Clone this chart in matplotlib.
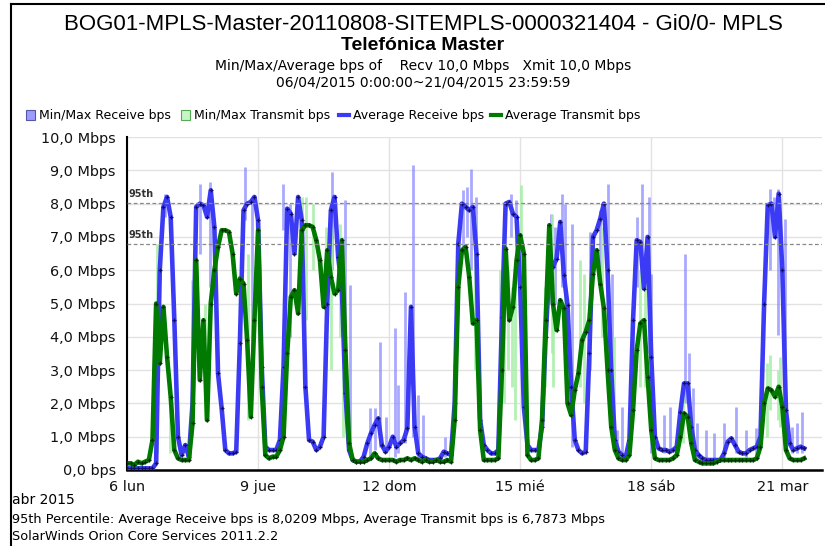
import matplotlib
matplotlib.use("Agg")
import matplotlib.pyplot as plt
from matplotlib.lines import Line2D
from matplotlib.patches import Rectangle
import numpy as np

# ---------------- data (2-hourly averages, Mbps, from 06/04 00:00) ----------------
rx_avg = [
    # day 6
    0.05, 0.05, 0.05, 0.05, 0.05, 0.05, 0.05, 0.05, 0.2, 6.0, 7.9, 8.2,
    # day 7
    7.6, 4.5, 1.0, 0.45, 0.75, 0.4, 2.0, 7.9, 8.0, 7.95, 7.6, 8.4,
    # day 8
    7.3, 2.9, 1.85, 0.6, 0.5, 0.5, 0.55, 3.8, 7.8, 8.0, 8.05, 8.2,
    # day 9
    7.5, 3.1, 0.7, 0.6, 0.6, 0.6, 0.9, 3.1, 7.85, 7.7, 6.5, 8.2,
    # day 10
    7.5, 2.5, 0.9, 0.85, 0.6, 0.7, 1.0, 5.0, 7.8, 8.2, 6.4, 5.5,
    # day 11
    2.3, 0.6, 0.3, 0.25, 0.25, 0.4, 0.8, 1.1, 1.35, 1.55, 0.75, 0.55,
    # day 12
    0.7, 1.0, 0.7, 0.8, 0.9, 1.25, 4.9, 1.3, 0.5, 0.4, 0.35, 0.3,
    # day 13
    0.3, 0.3, 0.35, 0.55, 0.5, 0.45, 2.0, 6.8, 8.0, 7.9, 7.8, 7.9,
    # day 14
    6.5, 1.5, 0.75, 0.6, 0.5, 0.5, 0.6, 4.6, 8.0, 8.05, 7.7, 7.6,
    # day 15
    5.5, 1.9, 0.75, 0.6, 0.6, 0.6, 1.3, 4.0, 6.0, 6.1, 6.35, 7.45,
    # day 16
    5.85, 4.95, 2.5, 0.9, 0.6, 0.5, 0.55, 3.5, 7.0, 7.2, 7.55, 8.0,
    # day 17
    6.0, 3.0, 0.9, 0.55, 0.45, 0.4, 0.9, 4.5, 6.9, 6.85, 5.45, 7.0,
    # day 18
    3.4, 1.0, 0.65, 0.6, 0.6, 0.55, 0.6, 0.7, 1.75, 2.6, 2.6, 1.3,
    # day 19
    0.6, 0.45, 0.35, 0.3, 0.3, 0.3, 0.3, 0.3, 0.5, 0.85, 0.95, 0.75,
    # day 20
    0.55, 0.5, 0.5, 0.6, 0.65, 0.7, 1.0, 5.0, 7.95, 8.0, 7.0, 8.3,
    # day 21
    6.0, 1.8, 0.8, 0.6, 0.65, 0.7, 0.65,
]

tx_avg = [
    # day 6
    0.2, 0.2, 0.15, 0.25, 0.2, 0.25, 0.3, 0.9, 5.0, 3.2, 4.9, 3.4,
    # day 7
    2.2, 0.6, 0.35, 0.3, 0.3, 0.3, 1.4, 6.3, 2.7, 4.5, 1.5, 5.0,
    # day 8
    6.0, 6.7, 7.2, 7.2, 7.15, 6.5, 5.3, 5.75, 5.6, 3.9, 1.6, 4.5,
    # day 9
    7.2, 2.5, 0.45, 0.35, 0.4, 0.4, 0.6, 1.0, 3.5, 5.2, 5.4, 4.7,
    # day 10
    7.2, 7.35, 7.35, 7.3, 6.9, 6.3, 4.9, 6.6, 5.8, 5.3, 5.4, 6.9,
    # day 11
    3.6, 0.8, 0.3, 0.25, 0.25, 0.25, 0.3, 0.35, 0.5, 0.35, 0.3, 0.3,
    # day 12
    0.3, 0.3, 0.25, 0.3, 0.3, 0.35, 0.3, 0.35, 0.3, 0.25, 0.3, 0.25,
    # day 13
    0.25, 0.3, 0.25, 0.25, 0.3, 0.25, 1.5, 5.5, 6.6, 6.7, 5.8, 4.4,
    # day 14
    4.5, 1.2, 0.3, 0.3, 0.3, 0.3, 0.35, 3.0, 6.65, 4.5, 4.9, 6.3,
    # day 15
    7.05, 6.5, 0.45, 0.3, 0.3, 0.35, 1.5, 4.5, 7.35, 5.0, 4.2, 5.1,
    # day 16
    4.85, 2.0, 1.65, 2.4, 2.9, 3.9, 4.15, 4.5, 5.9, 6.6, 5.6, 4.85,
    # day 17
    3.0, 1.3, 0.6, 0.35, 0.3, 0.3, 0.45, 1.8, 3.6, 4.4, 4.5, 2.8,
    # day 18
    1.2, 0.35, 0.3, 0.3, 0.3, 0.3, 0.35, 0.45, 1.0, 1.7, 1.6, 0.8,
    # day 19
    0.3, 0.25, 0.2, 0.2, 0.2, 0.2, 0.25, 0.3, 0.3, 0.3, 0.3, 0.3,
    # day 20
    0.3, 0.3, 0.3, 0.3, 0.3, 0.35, 0.7, 2.0, 2.45, 2.4, 2.2, 2.5,
    # day 21
    1.9, 0.6, 0.35, 0.3, 0.3, 0.3, 0.35,
]

# min/max spikes (hour since 06/04 00:00, min, max) in Mbps
rx_bar_h = [20.9, 40.1, 45.6, 64.6, 68.7, 85.7, 89.6, 112.4, 119.6, 122.4, 133.4, 136.1,
            138.9, 142.5, 147.1, 148.9, 152.6, 157.2, 159.9, 162.7, 174.6, 184.7, 186.7,
            189.2, 191.8, 211.2, 213.8, 233.0, 235.2, 238.8, 240.7, 244.6, 254.5, 260.0,
            264.5, 266.6, 269.3, 272.0, 280.0, 282.9, 286.5, 287.7, 295.1, 298.4, 306.8,
            308.7, 310.9, 313.3, 318.2, 322.6, 328.1, 334.7, 340.2, 345.7, 353.0, 355.6,
            357.6, 361.3, 365.5, 368.2, 371.0]
rx_bar_lo = [7.6, 6.5, 5.5, 7.5, 2.5, 7.2, 4.0, 6.0, 3.6, 0.4, 0.3, 0.6,
             0.7, 0.5, 0.4, 0.5, 0.8, 1.0, 0.3, 0.3, 0.4, 6.5, 7.0,
             6.0, 4.0, 7.0, 6.0, 5.0, 5.0, 5.5, 3.0, 0.7, 3.0, 6.0,
             5.5, 1.0, 0.4, 0.4, 5.5, 6.0, 3.5, 0.5, 0.5, 0.5, 2.0,
             1.5, 0.5, 0.3, 0.3, 0.3, 0.3, 0.5, 0.4, 0.4, 6.0, 7.0,
             4.05, 3.0, 0.5, 0.5, 0.5]
rx_bar_hi = [8.3, 8.6, 8.65, 9.1, 8.0, 8.6, 8.0, 8.95, 8.1, 5.55, 1.85, 1.85,
             3.85, 1.6, 4.25, 2.55, 5.35, 9.15, 2.25, 1.65, 1.0, 8.4, 8.5,
             9.05, 8.2, 8.3, 8.1, 7.7, 7.3, 8.3, 8.0, 7.4, 7.15, 7.8,
             8.6, 5.9, 1.2, 1.9, 7.6, 8.6, 8.2, 5.9, 1.65, 1.9, 6.5,
             3.5, 2.45, 1.4, 1.2, 1.1, 1.4, 1.9, 1.2, 1.25, 8.45, 8.2,
             8.45, 7.55, 1.3, 1.4, 1.75]

tx_bar_h = [16.3, 23.6, 35.7, 42.9, 66.5, 96.2, 98.4, 102.4, 109.4, 112.0, 117.1, 118.7,
            191.3, 205.0, 207.2, 209.5, 211.6, 213.2, 216.5, 229.7, 233.3, 234.1, 240.7,
            249.0, 250.8, 254.5, 260.9, 267.7, 281.9, 284.5, 305.6, 351.7, 353.0, 357.6, 358.7]
tx_bar_lo = [0.5, 0.5, 1.0, 1.5, 1.5, 5.5, 4.5, 6.0, 3.0, 3.0, 4.0, 1.0,
             3.0, 1.5, 2.0, 3.0, 2.5, 1.5, 5.5, 2.5, 3.5, 2.5, 3.0,
             2.5, 2.0, 3.0, 4.0, 1.0, 2.5, 2.5, 0.8, 1.0, 1.8, 1.5, 1.3]
tx_bar_hi = [6.8, 2.5, 5.7, 5.0, 6.5, 8.2, 8.2, 8.0, 7.3, 7.3, 7.4, 5.0,
             7.5, 6.0, 7.0, 6.0, 5.5, 6.0, 8.55, 5.5, 7.7, 6.0, 5.5,
             6.3, 5.9, 6.2, 7.3, 4.0, 6.0, 5.8, 2.3, 3.2, 3.45, 3.0, 3.4]

p95_rx = 8.0209
p95_tx = 6.7873

y_ticks = [0, 1, 2, 3, 4, 5, 6, 7, 8, 9, 10]
y_tick_labels = ["0,0 bps", "1,0 Mbps", "2,0 Mbps", "3,0 Mbps", "4,0 Mbps", "5,0 Mbps",
                 "6,0 Mbps", "7,0 Mbps", "8,0 Mbps", "9,0 Mbps", "10,0 Mbps"]
x_tick_days = [0, 3, 6, 9, 12, 15]
x_tick_labels = ["6 lun", "9 jue", "12 dom", "15 mié", "18 sáb", "21 mar"]

# ---------------- figure ----------------
W, H = 825, 546
fig = plt.figure(figsize=(W / 100, H / 100), dpi=100)
fig.patch.set_facecolor("white")

def fx(px):
    return px / W

def fy(py):
    return 1 - py / H

arial = ["Liberation Sans", "DejaVu Sans"]

ax = fig.add_axes([fx(127), fy(470), fx(822) - fx(127), fy(137) - fy(470)])
t_hours = np.arange(len(rx_avg)) * 2.0

ax.vlines(rx_bar_h, rx_bar_lo, rx_bar_hi, color="#8c8cff", alpha=0.75, lw=2.0, zorder=2)
ax.vlines(tx_bar_h, tx_bar_lo, tx_bar_hi, color="#a6eea6", alpha=0.85, lw=2.0, zorder=2)

ax.plot(t_hours, rx_avg, color="#3b3bf5", lw=3.3, zorder=3,
        marker="+", ms=3.5, mew=0.9, mec="#10106a", solid_joinstyle="round")
ax.plot(t_hours, tx_avg, color="#007a00", lw=3.3, zorder=4,
        marker="+", ms=3.5, mew=0.9, mec="#003000", solid_joinstyle="round")

ax.axhline(p95_rx, color="#888888", lw=0.9, ls=(0, (3, 2)), zorder=5)
ax.axhline(p95_tx, color="#888888", lw=0.9, ls=(0, (3, 2)), zorder=5)
ax.text(1.0, p95_rx + 0.12, "95th", fontsize=7, fontweight="bold", color="#333333",
        ha="left", va="bottom", zorder=6)
ax.text(1.0, p95_tx + 0.12, "95th", fontsize=7, fontweight="bold", color="#333333",
        ha="left", va="bottom", zorder=6)

ax.set_xlim(0, 381.8)
ax.set_ylim(0, 10)
ax.set_yticks(y_ticks)
ax.set_yticklabels(y_tick_labels, fontsize=10.4, color="#111111")
ax.set_xticks([d * 24 for d in x_tick_days])
ax.set_xticklabels(x_tick_labels, fontsize=10.4, color="#111111")
ax.tick_params(axis="y", length=0, pad=8)
ax.tick_params(axis="x", length=0, pad=7)
ax.grid(True, color="#e2e2e2", lw=1.0, zorder=0)
ax.set_axisbelow(True)
for s in ["top", "right"]:
    ax.spines[s].set_visible(False)
ax.spines["left"].set_color("black")
ax.spines["left"].set_linewidth(1.5)
ax.spines["bottom"].set_color("black")
ax.spines["bottom"].set_linewidth(1.8)

# ---------------- titles ----------------
fig.text(fx(423), fy(24), "BOG01-MPLS-Master-20110808-SITEMPLS-0000321404 - Gi0/0- MPLS",
         ha="center", va="center", fontsize=16, family=arial)
fig.text(fx(423), fy(46), "Telefónica Master", ha="center", va="center",
         fontsize=14, family=arial, fontweight="bold")
fig.text(fx(423), fy(66), "Min/Max/Average bps of    Recv 10,0 Mbps   Xmit 10,0 Mbps",
         ha="center", va="center", fontsize=10)
fig.text(fx(423), fy(82), "06/04/2015 0:00:00~21/04/2015 23:59:59",
         ha="center", va="center", fontsize=10)

# ---------------- legend ----------------
leg_y = 115
fig.add_artist(Rectangle((fx(26), fy(120)), fx(9), fy(110) - fy(120),
                         facecolor="#9c9cff", edgecolor="#5555aa", lw=0.8))
fig.text(fx(39), fy(leg_y), "Min/Max Receive bps", ha="left", va="center", fontsize=9)
fig.add_artist(Rectangle((fx(181), fy(120)), fx(9), fy(110) - fy(120),
                         facecolor="#c6f5c6", edgecolor="#55aa55", lw=0.8))
fig.text(fx(194), fy(leg_y), "Min/Max Transmit bps", ha="left", va="center", fontsize=9)
fig.add_artist(Line2D([fx(339), fx(349)], [fy(leg_y), fy(leg_y)], color="#3b3bf5", lw=3))
fig.text(fx(353), fy(leg_y), "Average Receive bps", ha="left", va="center", fontsize=9)
fig.add_artist(Line2D([fx(491), fx(501)], [fy(leg_y), fy(leg_y)], color="#007a00", lw=3))
fig.text(fx(505), fy(leg_y), "Average Transmit bps", ha="left", va="center", fontsize=9)

# ---------------- footer ----------------
fig.text(fx(12), fy(500), "abr 2015", ha="left", va="center", fontsize=10)
fig.text(fx(12), fy(520),
         "95th Percentile: Average Receive bps is 8,0209 Mbps, Average Transmit bps is 6,7873 Mbps",
         ha="left", va="center", fontsize=9.3)
fig.text(fx(12), fy(537), "SolarWinds Orion Core Services 2011.2.2",
         ha="left", va="center", fontsize=9.3)

# frame
fig.add_artist(Line2D([fx(10.5), fx(10.5)], [fy(4), fy(546)], color="black", lw=1.5))
fig.add_artist(Line2D([fx(10.5), fx(825)], [fy(4), fy(4)], color="black", lw=1.5))

fig.savefig("out.png", dpi=100)
